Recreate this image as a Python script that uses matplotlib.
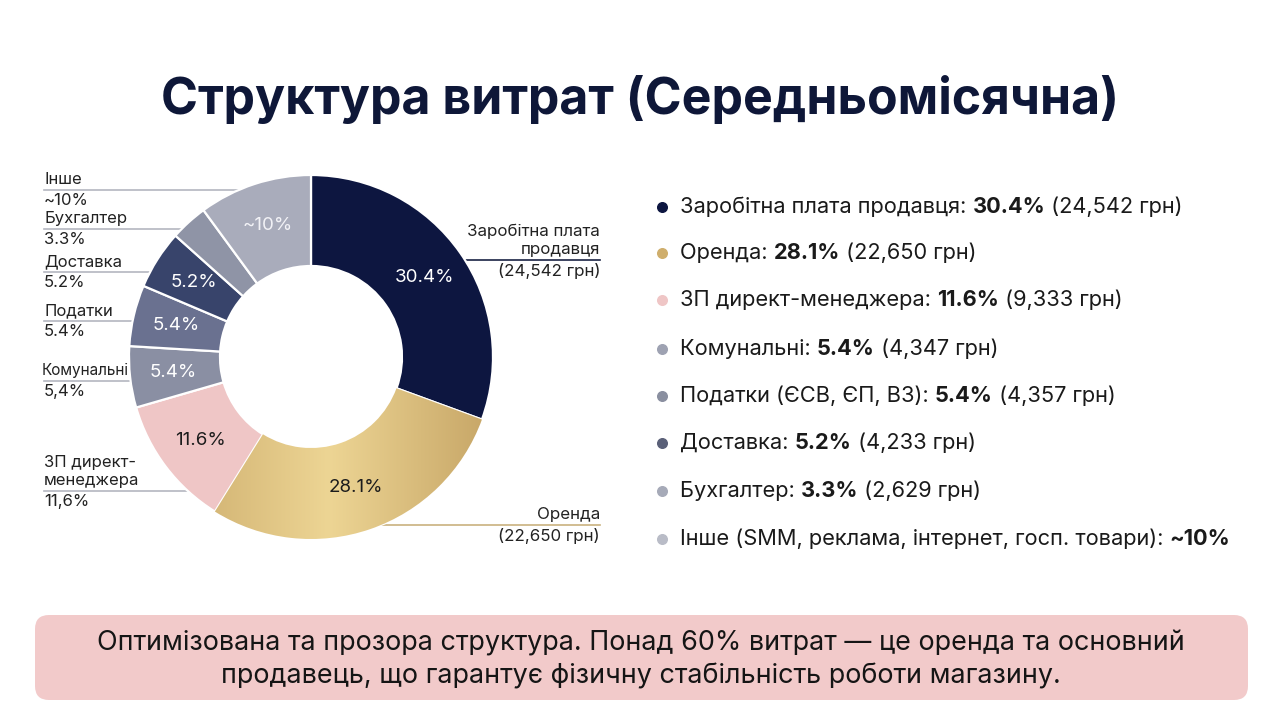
import numpy as np
import matplotlib.pyplot as plt
from matplotlib.patches import FancyBboxPatch
from matplotlib.colors import to_rgb

plt.rcParams['font.family'] = ['Inter', 'DejaVu Sans']

# data
categories = ["Заробітна плата продавця", "Оренда", "ЗП директ-менеджера", "Комунальні",
              "Податки (ЄСВ, ЄП, ВЗ)", "Доставка", "Бухгалтер",
              "Інше (SMM, реклама, інтернет, госп. товари)"]
shares = [30.4, 28.1, 11.6, 5.4, 5.4, 5.2, 3.3, 10.0]
share_text = ["30.4%", "28.1%", "11.6%", "5.4%", "5.4%", "5.2%", "3.3%", "~10%"]
amounts = ["24,542 грн", "22,650 грн", "9,333 грн", "4,347 грн", "4,357 грн",
           "4,233 грн", "2,629 грн", ""]
inner_text = ["30.4%", "28.1%", "11.6%", "5.4%", "5.4%", "5.2%", "", "~10%"]
left_names = ["Інше", "Бухгалтер", "Доставка", "Податки", "Комунальні", "ЗП директ-\nменеджера"]
left_values = ["~10%", "3.3%", "5.2%", "5.4%", "5,4%", "11,6%"]
right_names = ["Заробітна плата\nпродавця", "Оренда"]
right_values = ["(24,542 грн)", "(22,650 грн)"]

colors = ["#0d1640", "#d8bb7a", "#efc6c6", "#8a8fa3", "#6a7190", "#38446b", "#8f94a6", "#a9acbb"]
bullet_colors = ["#0d1640", "#cfae6c", "#efc6c6", "#9ea2b2", "#8a8fa0", "#5a6078", "#a6aab8", "#b9bcc7"]
inner_colors = ["white", "#1c1c1c", "#1c1c1c", "white", "white", "white", "white", "#f2f2f6"]

W, H = 1280, 715
fig = plt.figure(figsize=(W / 100, H / 100), dpi=100)
fig.patch.set_facecolor("white")

bg = fig.add_axes([0, 0, 1, 1])
bg.set_xlim(0, W)
bg.set_ylim(H, 0)
bg.axis("off")

# title
bg.text(640, 100, "Структура витрат (Середньомісячна)", ha="center", va="center",
        fontsize=36, fontweight="bold", color="#0e1738")

# donut
cx, cy, R = 311, 357, 182
pax = fig.add_axes([(cx - R) / W, (H - cy - R) / H, 2 * R / W, 2 * R / H])
wedges, _ = pax.pie(shares, colors=colors, startangle=90, counterclock=False, radius=1,
                    wedgeprops=dict(width=0.5, edgecolor="white", linewidth=1.6))
pax.set_xlim(-1, 1)
pax.set_ylim(-1, 1)
pax.axis("off")

# golden gradient on the rent slice
g0, g1, g2 = to_rgb("#c4a262"), to_rgb("#edd594"), to_rgb("#c6a566")
t = np.linspace(0, 1, 256)
grad = np.array([np.interp(t, [0, 0.55, 1], [g0[i], g1[i], g2[i]]) for i in range(3)]).T
im = pax.imshow(grad[np.newaxis, :, :], extent=[-1, 1, -1, 1], aspect="auto", zorder=1.5)
im.set_clip_path(wedges[1])

for w, txt, c in zip(wedges, inner_text, inner_colors):
    ang = np.deg2rad((w.theta1 + w.theta2) / 2)
    pax.text(0.76 * np.cos(ang), 0.76 * np.sin(ang), txt, ha="center", va="center",
             fontsize=13.5, color=c, zorder=3)

# left leader labels
left_line_y = [190, 229, 272, 321, 381, 491]
left_x = [44, 44, 44, 44, 42, 44]
left_fs = [12, 12, 12, 12, 11, 12]
for name, val, ly, lx, fs in zip(left_names, left_values, left_line_y, left_x, left_fs):
    xe = cx - np.sqrt(R ** 2 - (ly - cy) ** 2)
    bg.plot([44, xe], [ly, ly], color="#b4b6c0", lw=1.2, zorder=0)
    bg.text(lx, ly - 3, name, ha="left", va="bottom", fontsize=fs, color="#222222",
            linespacing=1.25)
    bg.text(44, ly + 3, val, ha="left", va="top", fontsize=12, color="#222222")

# right leader labels
right_line_y = [260, 525]
right_line_c = ["#1a2244", "#c9b27f"]
for name, val, ly, lc in zip(right_names, right_values, right_line_y, right_line_c):
    xe = cx + np.sqrt(R ** 2 - (ly - cy) ** 2)
    bg.plot([xe, 600], [ly, ly], color=lc, lw=1.2, zorder=0)
    bg.text(600, ly - 3, name, ha="right", va="bottom", fontsize=12.2, color="#222222",
            multialignment="right", linespacing=1.25)
    bg.text(600, ly + 3, val, ha="right", va="top", fontsize=12.2, color="#222222")

# legend list with mixed weights
row_y = [207, 253, 300, 349, 396, 443, 491, 539]
fig.canvas.draw()
renderer = fig.canvas.get_renderer()
for name, st, am, bc, y in zip(categories, share_text, amounts, bullet_colors, row_y):
    bg.scatter([662], [y], s=48, color=bc, zorder=3)
    parts = [(name + ": ", "normal"), (st, "bold")]
    if am:
        parts.append((" (" + am + ")", "normal"))
    x = 680
    for s, fw in parts:
        tt = bg.text(x, y, s, ha="left", va="center", fontsize=15.7, fontweight=fw,
                     color="#1a1a1a")
        x += tt.get_window_extent(renderer).width

# bottom note
box = FancyBboxPatch((35, 615), 1213, 85, boxstyle="round,pad=0,rounding_size=14",
                     facecolor="#f2caca", edgecolor="none")
bg.add_patch(box)
bg.text(641, 643, "Оптимізована та прозора структура. Понад 60% витрат — це оренда та основний",
        ha="center", va="center", fontsize=19.4, color="#151515")
bg.text(641, 676, "продавець, що гарантує фізичну стабільність роботи магазину.",
        ha="center", va="center", fontsize=19.4, color="#151515")

fig.savefig("out.png", dpi=100, facecolor="white")
